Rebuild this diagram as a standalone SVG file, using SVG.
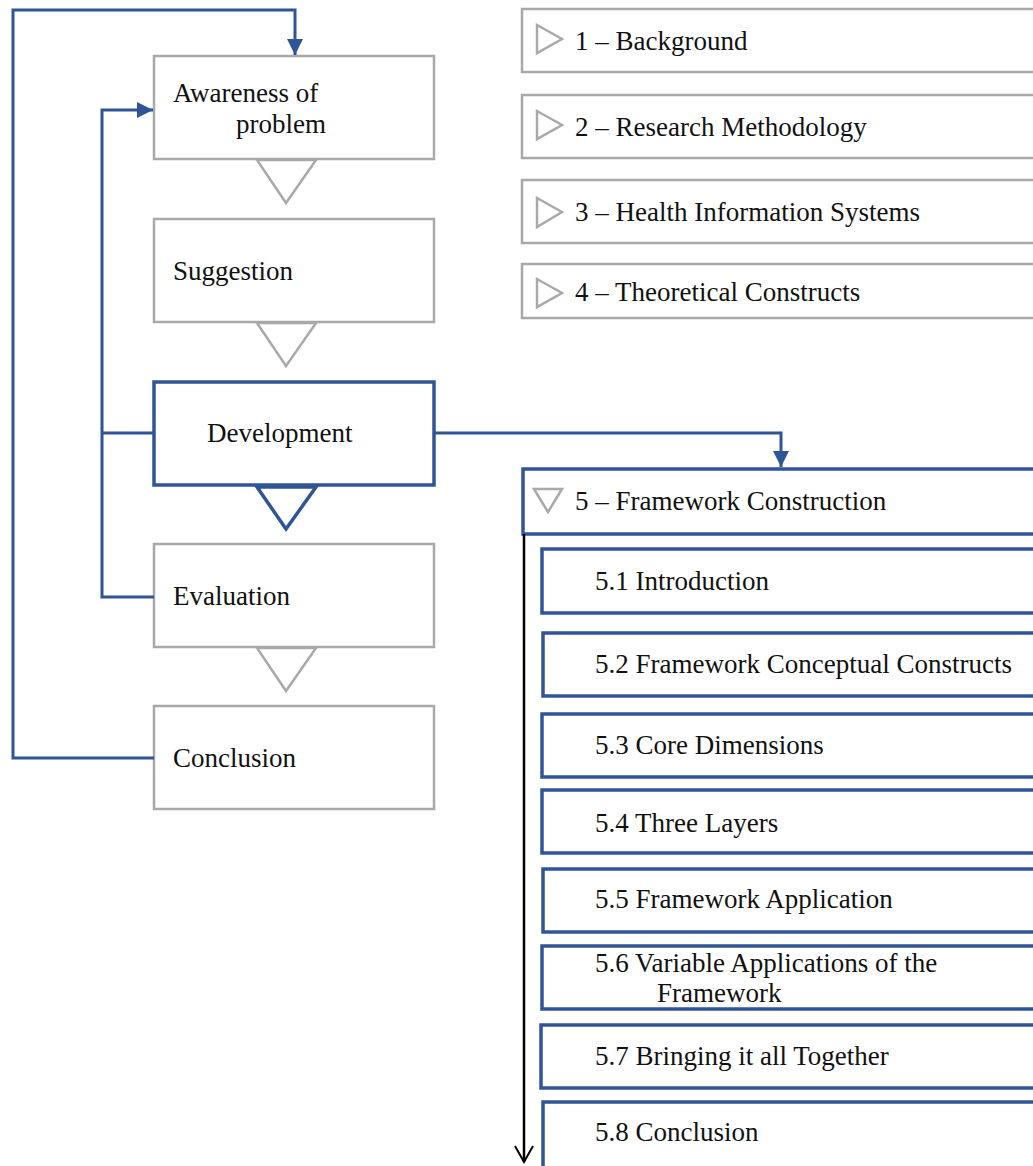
<svg xmlns="http://www.w3.org/2000/svg" width="1033" height="1166" viewBox="0 0 1033 1166">
  <style>
    text { font-family: "Liberation Serif", "Times New Roman", serif; font-size: 27px; fill: #111; }
    .grey { fill: #fff; stroke: #a9a9a9; stroke-width: 2.5; }
    .blue { fill: #fff; stroke: #2f5597; stroke-width: 3.5; }
    .tri-grey { fill: #fff; stroke: #a9a9a9; stroke-width: 2.5; stroke-linejoin: miter; }
    .tri-blue { fill: #fff; stroke: #2f5597; stroke-width: 3.5; stroke-linejoin: miter; }
    .conn { fill: none; stroke: #2f5597; stroke-width: 3; }
    .flow { fill: none; stroke: #000; stroke-width: 2.5; }
  </style>
  <defs>
    <marker id="arrow-blue" viewBox="0 0 10 10" refX="10" refY="5" markerWidth="5.5" markerHeight="5.5" markerUnits="strokeWidth" orient="auto">
      <path d="M0,0 L10,5 L0,10 Z" fill="#2f5597"/>
    </marker>
    <marker id="arrow-open" viewBox="0 0 20 20" refX="18" refY="10" markerWidth="8" markerHeight="8" markerUnits="strokeWidth" orient="auto">
      <path d="M2,1 L18,10 L2,19" fill="none" stroke="#000" stroke-width="2"/>
    </marker>
  </defs>

  <rect width="1033" height="1166" fill="#fff"/>

  <!-- design-science cycle -->
  <g id="awareness">
    <rect class="grey" x="154" y="56" width="280" height="103"/>
    <polygon class="tri-grey" points="257,160 316,160 286,203"/>
    <text x="173" y="102">Awareness of</text>
    <text x="236" y="133">problem</text>
  </g>
  <g id="suggestion">
    <rect class="grey" x="154" y="219" width="280" height="103"/>
    <polygon class="tri-grey" points="257,323 316,323 286,366"/>
    <text x="173" y="280">Suggestion</text>
  </g>
  <g id="development">
    <rect class="blue" x="154" y="382" width="280" height="103"/>
    <polygon class="tri-blue" points="257,487 316,487 286,529"/>
    <text x="207" y="442">Development</text>
  </g>
  <g id="evaluation">
    <rect class="grey" x="154" y="544" width="280" height="103"/>
    <polygon class="tri-grey" points="257,648 316,648 286,691"/>
    <text x="173" y="605">Evaluation</text>
  </g>
  <g id="conclusion">
    <rect class="grey" x="154" y="706" width="280" height="103"/>
    <text x="173" y="767">Conclusion</text>
  </g>

  <!-- chapter list -->
  <g id="ch1">
    <rect class="grey" x="522" y="9" width="520" height="63"/>
    <polygon class="tri-grey" points="537,25 562,39 537,53"/>
    <text x="575" y="50">1 – Background</text>
  </g>
  <g id="ch2">
    <rect class="grey" x="522" y="95" width="520" height="63"/>
    <polygon class="tri-grey" points="537,111 562,125 537,139"/>
    <text x="575" y="136">2 – Research Methodology</text>
  </g>
  <g id="ch3">
    <rect class="grey" x="522" y="180" width="520" height="63"/>
    <polygon class="tri-grey" points="537,198 562,212 537,227"/>
    <text x="575" y="221">3 – Health Information Systems</text>
  </g>
  <g id="ch4">
    <rect class="grey" x="522" y="264" width="520" height="54"/>
    <polygon class="tri-grey" points="537,279 562,293 537,307"/>
    <text x="575" y="301">4 – Theoretical Constructs</text>
  </g>
  <g id="ch5">
    <rect class="blue" x="523" y="469" width="520" height="65"/>
    <polygon class="tri-grey" points="534,489 562,489 548,512"/>
    <text x="575" y="510">5 – Framework Construction</text>
  </g>

  <!-- chapter 5 sections -->
  <g id="s51">
    <rect class="blue" x="542" y="549" width="500" height="64"/>
    <text x="595" y="590">5.1 Introduction</text>
  </g>
  <g id="s52">
    <rect class="blue" x="543" y="633" width="500" height="63"/>
    <text x="595" y="673">5.2 Framework Conceptual Constructs</text>
  </g>
  <g id="s53">
    <rect class="blue" x="542" y="714" width="500" height="63"/>
    <text x="595" y="754">5.3 Core Dimensions</text>
  </g>
  <g id="s54">
    <rect class="blue" x="542" y="790" width="500" height="63"/>
    <text x="595" y="832">5.4 Three Layers</text>
  </g>
  <g id="s55">
    <rect class="blue" x="543" y="869" width="500" height="63"/>
    <text x="595" y="908">5.5 Framework Application</text>
  </g>
  <g id="s56">
    <rect class="blue" x="542" y="946" width="500" height="63"/>
    <text x="595" y="972">5.6 Variable Applications of the</text>
    <text x="657" y="1002">Framework</text>
  </g>
  <g id="s57">
    <rect class="blue" x="541" y="1025" width="500" height="63"/>
    <text x="595" y="1065">5.7 Bringing it all Together</text>
  </g>
  <g id="s58">
    <rect class="blue" x="543" y="1102" width="500" height="70"/>
    <text x="595" y="1141">5.8 Conclusion</text>
  </g>

  <!-- connectors -->
  <g id="connectors">
    <path class="conn" d="M154,758 H13 V10 H295 V55" marker-end="url(#arrow-blue)"/>
    <path class="conn" d="M154,597 H102 V110 H153" marker-end="url(#arrow-blue)"/>
    <path class="conn" d="M154,433 H102"/>
    <path class="conn" d="M434,433 H781 V467" marker-end="url(#arrow-blue)"/>
    <path class="flow" d="M524,534 V1162" marker-end="url(#arrow-open)"/>
  </g>
</svg>
